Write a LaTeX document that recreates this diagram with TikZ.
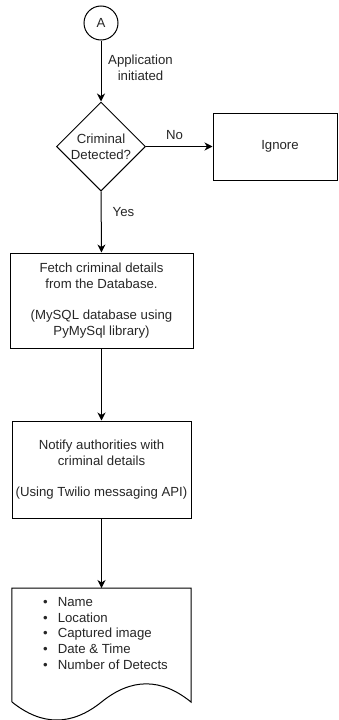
\documentclass[tikz,border=0pt]{standalone}
\usepackage{fontspec}
\setmainfont{Liberation Sans}
\usetikzlibrary{shapes.geometric,arrows.meta}
\begin{document}
\begin{tikzpicture}[x=1pt,y=-1pt,
  every node/.style={font=\fontsize{13.2pt}{15.8pt}\selectfont, text=black!85},
  line/.style={draw=black, line width=1pt},
  arr/.style={line, -{Stealth[length=8pt,width=8pt,inset=2.5pt]}},
  boxnode/.style={line, rectangle, inner sep=0pt, align=center},
  lbl/.style={inner sep=0pt, align=center}]
\useasboundingbox (0,0) rectangle (338,720);
% start connector
\node[line, circle, minimum size=34pt, inner sep=0pt] (A) at (101,23) {A};
% decision
\node[line, diamond, minimum width=89pt, minimum height=89pt, inner sep=0pt, align=center] (dec) at (101,146.5) {Criminal\\Detected?};
% ignore
\node[boxnode, minimum width=124pt, minimum height=67pt] (ign) at (275,146.5) {\hspace*{10pt}Ignore};
% fetch
\node[boxnode, minimum width=183pt, minimum height=95pt] (fetch) at (101.5,300.5)
  {Fetch criminal details\\from the Database.\\[15.8pt](MySQL database using\\PyMySql library)};
% notify
\node[boxnode, minimum width=179pt, minimum height=97pt] (notify) at (101.5,469.5)
  {Notify authorities with\\criminal details\\[15.8pt](Using Twilio messaging API)};
% document
\node[rectangle, inner sep=0pt, minimum width=179pt, minimum height=134pt, anchor=north] (doc) at (101.5,588) {};
\draw[line] (12,702) -- (doc.north west) -- (doc.north east) -- (191,702)
  .. controls (161.17,677.8) and (131.33,677.8) .. (101.5,702)
  .. controls (71.67,726) and (41.83,726) .. (12,702) -- cycle;
\node[lbl, anchor=north west, align=left] (list) at (43,597)
  {\textbullet\hspace{10pt}Name\\
   \textbullet\hspace{10pt}Location\\
   \textbullet\hspace{10pt}Captured image\\
   \textbullet\hspace{10pt}Date \& Time\\
   \textbullet\hspace{10pt}Number of Detects};
% connectors
\draw[arr] (A) -- (dec);
\node[lbl] (l1) at (140.5,68) {Application\\initiated};
\draw[arr] (dec.east) -- (ign.west);
\node[lbl] (l2) at (174.5,135) {No};
\draw[arr] (dec.south) -- (fetch.north);
\node[lbl] (l3) at (123.5,212.5) {Yes};
\draw[arr] (fetch) -- (notify);
\draw[arr] (notify) -- (doc.north);
\end{tikzpicture}
\end{document}
